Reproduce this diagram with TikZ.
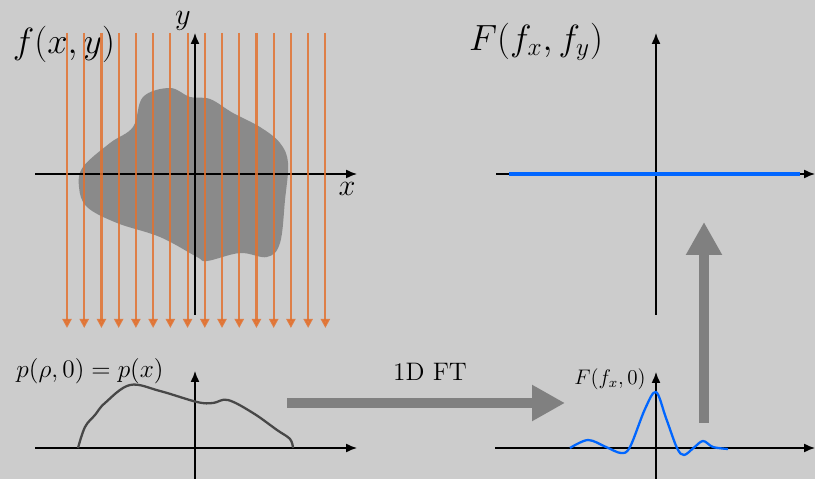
\documentclass[tikz,border=0pt]{standalone}
\usetikzlibrary{arrows.meta,positioning,calc}

\definecolor{bggray}{RGB}{204,204,204}
\definecolor{raycol}{RGB}{226,114,48}
\definecolor{ftblue}{RGB}{0,102,255}
\definecolor{bigarrow}{RGB}{128,128,128}

\begin{document}
\begin{tikzpicture}[
  axis/.style={-{Latex[length=2.2mm,width=1.8mm]}, thick},
  ray/.style={-{Triangle[length=1.8mm,width=1.8mm]}, raycol, opacity=0.85, line width=1.2pt},
  fatarrow/.style={-{Triangle[length=0.66cm,width=0.68cm]}, bigarrow, line width=0.2cm},
  lbl/.style={inner sep=0pt}
]
  % background and page size
  \fill[bggray] (0,0) rectangle (16.3,9.58);
  \useasboundingbox (0,0) rectangle (16.3,9.58);

  % object f(x,y) with parallel rays
  \begin{scope}[shift={(3.9,6.1)}]
    \fill[black!46] plot[smooth cycle, tension=0.6] coordinates {
      (-0.5,1.72) (-1.04,1.54) (-1.24,0.94) (-1.7,0.62) (-2.24,0.14)
      (-2.32,-0.26) (-2.16,-0.66) (-1.56,-0.98) (-0.7,-1.26) (0.04,-1.66)
      (0.24,-1.74) (0.9,-1.58) (1.44,-1.66) (1.7,-1.38) (1.8,-0.52)
      (1.86,0.22) (1.7,0.62) (1.3,0.94) (0.76,1.22) (0.3,1.5) (-0.1,1.54)};
    \draw[axis] (-3.2,0) -- (3.24,0);
    \draw[axis] (0,-2.82) -- (0,2.82);
    \node[lbl, font=\LARGE] (xlbl) at (3.04,-0.3) {$x$};
    \node[lbl, font=\LARGE] (ylbl) at (-0.24,3.06) {$y$};
    \node[lbl, font=\huge] (fxy) at (-2.62,2.6) {$f(x,y)$};
    \foreach \i in {0,...,15}
      \draw[ray] (-2.56+0.3445*\i,2.82) -- (-2.56+0.3445*\i,-3.08);
  \end{scope}

  % 2D spectrum
  \begin{scope}[shift={(13.12,6.1)}]
    \draw[axis] (-3.2,0) -- (3.18,0);
    \draw[axis] (0,-2.82) -- (0,2.82);
    \draw[ftblue, line width=2pt] (-2.94,0) -- (2.88,0);
    \node[lbl, font=\huge] (Fxy) at (-2.4,2.64) {$F(f_x,f_y)$};
  \end{scope}

  % projection
  \begin{scope}[shift={(3.9,0.62)}]
    \draw[axis] (-3.2,0) -- (3.24,0);
    \draw[axis] (0,-0.62) -- (0,1.54);
    \draw[black!72, line width=1.3pt] plot[smooth, tension=0.6] coordinates {
      (-2.34,0) (-2.2,0.42) (-2.0,0.66) (-1.8,0.9) (-1.3,1.26) (-0.7,1.14)
      (0.04,0.92) (0.36,0.9) (0.66,0.96) (1.16,0.7) (1.64,0.36) (1.9,0.18)
      (1.96,0)};
    \node[lbl, font=\Large] (proj) at (-2.1,1.54) {$p(\rho,0)=p(x)$};
  \end{scope}

  % 1D spectrum
  \begin{scope}[shift={(13.12,0.62)}]
    \draw[axis] (-3.22,0) -- (3.18,0);
    \draw[axis] (0,-0.62) -- (0,1.52);
    \draw[ftblue, line width=1.3pt] plot[smooth, tension=0.55] coordinates {
      (-1.72,0) (-1.36,0.16) (-1.0,0.02) (-0.7,-0.1) (-0.52,0.02)
      (-0.22,0.78) (0,1.12) (0.2,0.6) (0.42,0) (0.56,-0.14) (0.75,0)
      (0.94,0.14) (1.14,0.02) (1.44,-0.02)};
    \node[lbl, font=\large] (F1d) at (-0.92,1.38) {$F(f_x,0)$};
  \end{scope}

  % transform steps
  \coordinate (ftstart) at (5.74,1.52);
  \coordinate (ftend) at (11.3,1.52);
  \coordinate (upstart) at (14.08,1.12);
  \coordinate (upend) at (14.08,5.14);
  \draw[fatarrow] (ftstart) -- (ftend);
  \draw[fatarrow] (upstart) -- (upend);
  \node[font=\Large] (ftlbl) at (8.6,2.14) {1D FT};
\end{tikzpicture}
\end{document}
